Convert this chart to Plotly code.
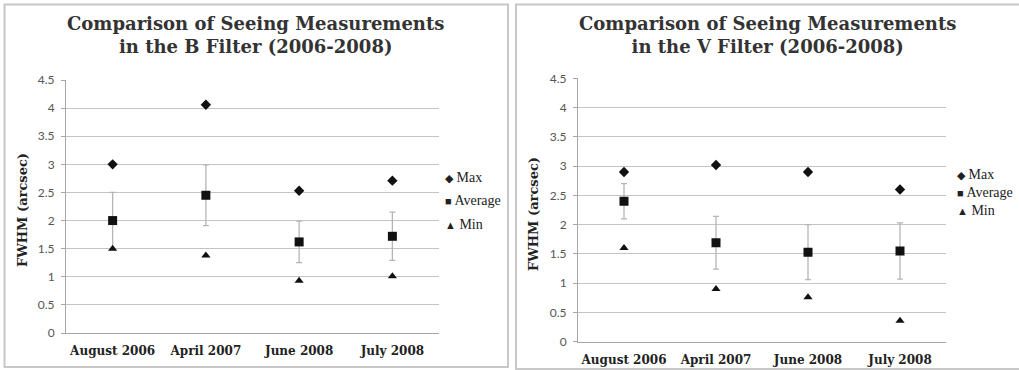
import plotly.graph_objects as go

categories = ["August 2006", "April 2007", "June 2008", "July 2008"]

b_max = [3.0, 4.06, 2.53, 2.71]
b_avg = [2.0, 2.45, 1.62, 1.72]
b_min = [1.5, 1.38, 0.93, 1.01]
b_err = [0.5, 0.54, 0.37, 0.43]

v_max = [2.9, 3.02, 2.9, 2.6]
v_avg = [2.4, 1.69, 1.53, 1.55]
v_min = [1.6, 0.9, 0.76, 0.36]
v_err = [0.3, 0.45, 0.47, 0.48]

y_ticks = [0, 0.5, 1, 1.5, 2, 2.5, 3, 3.5, 4, 4.5]
series_names = ["Max", "Average", "Min"]
legend_glyphs = ["◆", "■", "▲"]

W, H = 1019, 370
def px(x):
    return x / W
def py(y):
    return 1 - y / H

MARK = "#111111"
SERIF = "DejaVu Serif"

fig = go.Figure()

def add_panel(xa, ya, mx, av, mn, er):
    fig.add_trace(go.Scatter(x=categories, y=mx, mode="markers", name=series_names[0],
                             marker=dict(symbol="diamond", size=8, color=MARK),
                             xaxis=xa, yaxis=ya, showlegend=False))
    fig.add_trace(go.Scatter(x=categories, y=av, mode="markers", name=series_names[1],
                             marker=dict(symbol="square", size=9, color=MARK),
                             error_y=dict(type="data", array=er, color="#b5b5b5", thickness=1.3, width=3),
                             xaxis=xa, yaxis=ya, showlegend=False))
    fig.add_trace(go.Scatter(x=categories, y=mn, mode="markers", name=series_names[2],
                             marker=dict(symbol="triangle-up", size=8, color=MARK),
                             xaxis=xa, yaxis=ya, showlegend=False))

add_panel("x", "y", b_max, b_avg, b_min, b_err)
add_panel("x2", "y2", v_max, v_avg, v_min, v_err)

xcommon = dict(type="category", range=[-0.5, 3.5], showgrid=False, showline=True,
               linecolor="#a6a6a6", linewidth=1, ticks="", automargin=False,
               tickfont=dict(family=SERIF, size=12, color="#222222", weight="bold"),
               ticklabelstandoff=7, zeroline=False)
ycommon = dict(range=[0, 4.5], tickvals=y_ticks, ticktext=[str(t) for t in y_ticks],
               showgrid=True, gridcolor="#c4c4c4", gridwidth=1, automargin=False,
               showline=True, linecolor="#a6a6a6", linewidth=1,
               ticks="outside", ticklen=4, tickcolor="#a6a6a6", ticklabelstandoff=4,
               tickfont=dict(family="Lato", size=12, color="#555555"), zeroline=False)

annotations = [
    dict(text="Comparison of Seeing Measurements<br>in the B Filter (2006-2008)",
         x=px(256), y=py(35), xref="paper", yref="paper", showarrow=False,
         xanchor="center", yanchor="middle",
         font=dict(family=SERIF, size=18, color="#333333", weight="bold")),
    dict(text="Comparison of Seeing Measurements<br>in the V Filter (2006-2008)",
         x=px(767), y=py(35), xref="paper", yref="paper", showarrow=False,
         xanchor="center", yanchor="middle",
         font=dict(family=SERIF, size=18, color="#333333", weight="bold")),
    dict(text="FWHM (arcsec)", textangle=-90, x=px(22), y=py(210),
         xref="paper", yref="paper", showarrow=False, xanchor="center", yanchor="middle",
         font=dict(family=SERIF, size=13, color="#222222", weight="bold")),
    dict(text="FWHM (arcsec)", textangle=-90, x=px(533), y=py(214),
         xref="paper", yref="paper", showarrow=False, xanchor="center", yanchor="middle",
         font=dict(family=SERIF, size=13, color="#222222", weight="bold")),
]

legend_rows = [(443, [177, 200.5, 224]), (955, [174, 192.5, 211])]
for lx, ys in legend_rows:
    for g, nm, yy in zip(legend_glyphs, series_names, ys):
        annotations.append(dict(
            text=f"<span style='font-size:11px'>{g}</span> {nm}", x=px(lx), y=py(yy),
            xref="paper", yref="paper", showarrow=False, xanchor="left", yanchor="middle",
            font=dict(family="Liberation Serif", size=14, color="#222222")))

fig.update_layout(
    width=W, height=H,
    margin=dict(l=0, r=0, t=0, b=0),
    paper_bgcolor="white", plot_bgcolor="white",
    showlegend=False,
    xaxis=dict(domain=[px(66), px(439)], anchor="y", **xcommon),
    yaxis=dict(domain=[py(333), py(80)], anchor="x", **ycommon),
    xaxis2=dict(domain=[px(578), px(946)], anchor="y2", **xcommon),
    yaxis2=dict(domain=[py(341.7), py(78.3)], anchor="x2", **ycommon),
    shapes=[
        dict(type="rect", xref="paper", yref="paper", x0=px(4.5), x1=px(508),
             y0=py(367), y1=py(4.5), line=dict(color="#c8c8c8", width=2)),
        dict(type="rect", xref="paper", yref="paper", x0=px(516), x1=px(1030),
             y0=py(369), y1=py(4.5), line=dict(color="#c8c8c8", width=2)),
    ],
    annotations=annotations,
)

fig.write_html("out.html", config={"displayModeBar": False},
               post_script="document.body.style.margin='0';document.body.style.overflow='hidden';")
